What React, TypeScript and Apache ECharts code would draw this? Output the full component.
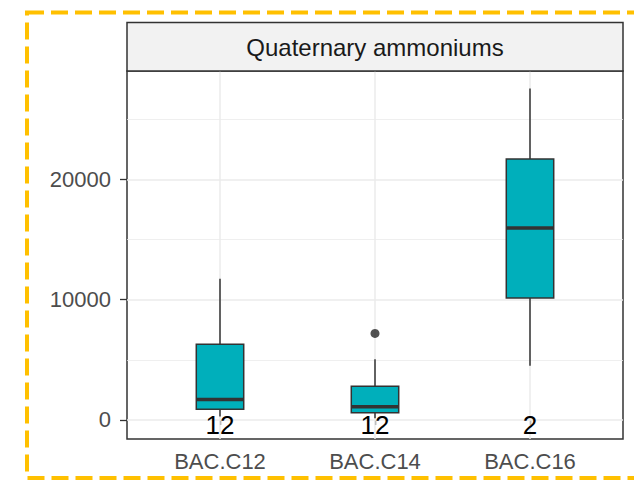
import React, { useEffect, useRef } from 'react';
import * as echarts from 'echarts';

const categories = ['BAC.C12', 'BAC.C14', 'BAC.C16'];
const whiskerLow = [300, 150, 4500];
const q1 = [900, 600, 10150];
const median = [1700, 1100, 15950];
const q3 = [6300, 2800, 21700];
const whiskerHigh = [11750, 5050, 27550];
const outlierCats = [2];
const outlierValues = [7200];
const counts = ['12', '12', '2'];
const yTicks = [0, 10000, 20000];
const yMinor = [5000, 15000, 25000];
const panelTitle = 'Quaternary ammoniums';

const FONT = '"Liberation Sans", Arial, sans-serif';

export default function App() {
  const ref = useRef<HTMLDivElement>(null);
  useEffect(() => {
    if (!ref.current) return;
    const chart = echarts.init(ref.current, undefined, { renderer: 'svg' });
    const xPos = categories.map((_, i) => i + 1);
    const boxData = categories.map((_, i) => [xPos[i], whiskerLow[i], q1[i], median[i], q3[i], whiskerHigh[i]]);
    const countData = categories.map((_, i) => [xPos[i], -430, counts[i]]);
    const outlierData = outlierCats.map((c, i) => [c, outlierValues[i]]);
    const halfW = 0.153;
    const option: any = {
      animation: false,
      backgroundColor: '#ffffff',
      grid: {
        left: 127, right: 11, top: 71, bottom: 43,
        show: true, backgroundColor: '#ffffff', borderColor: '#333333', borderWidth: 1.5,
      },
      xAxis: {
        type: 'value', min: 0.4, max: 3.6,
        axisLine: { show: false },
        splitLine: { show: false },
        axisTick: { show: true, customValues: xPos, length: 5, lineStyle: { color: '#333333', width: 1.3 } },
        axisLabel: {
          show: true, customValues: xPos, margin: 11,
          formatter: (v: number) => categories[Math.round(v) - 1] ?? '',
          fontSize: 22, color: '#4d4d4d', fontFamily: FONT,
        },
      },
      yAxis: {
        type: 'value', min: -1580, max: 29010,
        axisLine: { show: false },
        splitLine: { show: false },
        axisTick: { show: true, customValues: yTicks, length: 7, lineStyle: { color: '#333333', width: 1.3 } },
        axisLabel: {
          show: true, customValues: yTicks, margin: 16,
          formatter: (v: number) => String(Math.round(v)),
          fontSize: 22, color: '#4d4d4d', fontFamily: FONT,
        },
      },
      graphic: [
        {
          type: 'rect', z: 100,
          shape: { x: 127, y: 22.5, width: 496, height: 48.5 },
          style: { fill: '#f2f2f2', stroke: '#333333', lineWidth: 1.5 },
        },
        {
          type: 'text', z: 101, x: 375, y: 47,
          style: {
            text: panelTitle, fill: '#1a1a1a', font: `24px ${FONT}`,
            textAlign: 'center', textVerticalAlign: 'middle',
          },
        },
        {
          type: 'rect', z: 102,
          shape: { x: 27, y: 12.5, width: 700, height: 465.5 },
          style: { fill: 'transparent', stroke: '#FFC000', lineWidth: 4, lineDash: [17, 7] },
        },
      ],
      series: [
        {
          type: 'scatter', data: [], z: 1, silent: true,
          markLine: {
            silent: true, symbol: 'none', label: { show: false },
            data: [
              ...yMinor.map((v) => ({ yAxis: v, lineStyle: { color: '#ebebeb', width: 0.8, type: 'solid' } })),
              ...yTicks.map((v) => ({ yAxis: v, lineStyle: { color: '#ebebeb', width: 1.5, type: 'solid' } })),
              ...xPos.map((v) => ({ xAxis: v, lineStyle: { color: '#ebebeb', width: 1.5, type: 'solid' } })),
            ],
          },
        },
        {
          type: 'custom', z: 5, silent: true,
          data: boxData,
          renderItem: (params: any, api: any) => {
            const x = api.value(0);
            const lo = api.coord([x, api.value(1)]);
            const b1 = api.coord([x - halfW, api.value(2)]);
            const md = api.coord([x, api.value(3)]);
            const b3 = api.coord([x + halfW, api.value(4)]);
            const hi = api.coord([x, api.value(5)]);
            const left = b1[0];
            const right = b3[0];
            const stroke = { stroke: '#333333', lineWidth: 1.5 };
            return {
              type: 'group',
              children: [
                { type: 'line', shape: { x1: lo[0], y1: lo[1], x2: lo[0], y2: b1[1] }, style: stroke },
                { type: 'line', shape: { x1: hi[0], y1: b3[1], x2: hi[0], y2: hi[1] }, style: stroke },
                {
                  type: 'rect',
                  shape: { x: left, y: b3[1], width: right - left, height: b1[1] - b3[1] },
                  style: { fill: '#00AFBB', stroke: '#333333', lineWidth: 1.5 },
                },
                { type: 'line', shape: { x1: left, y1: md[1], x2: right, y2: md[1] }, style: { stroke: '#333333', lineWidth: 3.5 } },
              ],
            };
          },
        },
        {
          type: 'scatter', z: 6, silent: true,
          data: outlierData, symbol: 'circle', symbolSize: 9,
          itemStyle: { color: '#262626' },
        },
        {
          type: 'custom', z: 7, silent: true,
          data: countData,
          renderItem: (params: any, api: any) => {
            const p = api.coord([api.value(0), api.value(1)]);
            return {
              type: 'text', x: p[0], y: p[1],
              style: {
                text: String(counts[params.dataIndex]), fill: '#000000', font: `26px ${FONT}`,
                textAlign: 'center', textVerticalAlign: 'middle',
              },
            };
          },
        },
      ],
    };
    chart.setOption(option);
    return () => chart.dispose();
  }, []);
  return (
    <div
      ref={ref}
      style={{ position: 'absolute', left: 0, top: 0, width: 634, height: 482, background: '#ffffff' }}
    />
  );
}
